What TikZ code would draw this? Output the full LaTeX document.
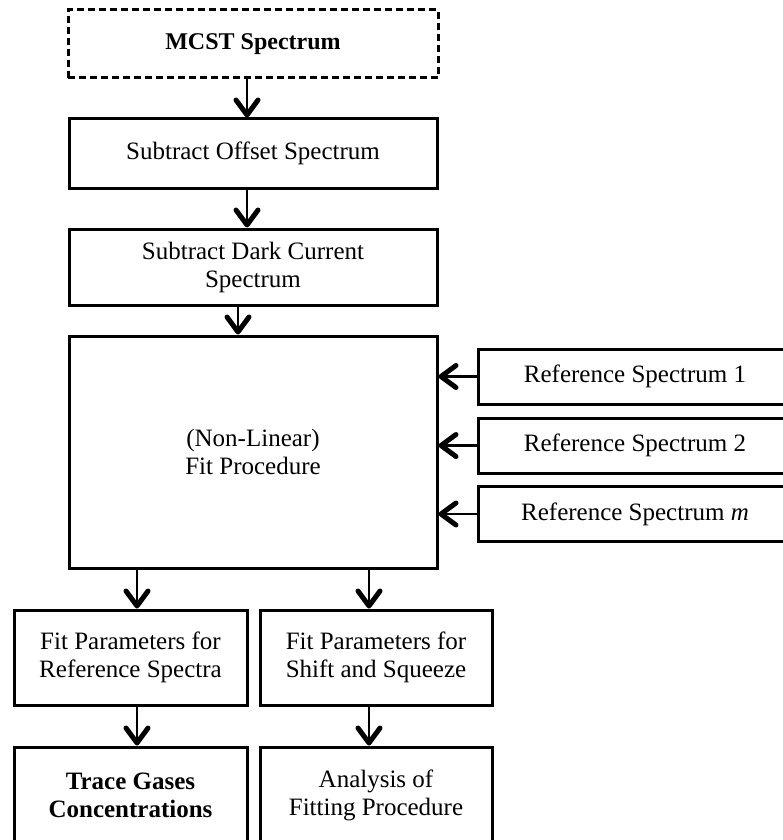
\documentclass[tikz,border=0pt]{standalone}
\usepackage{fontspec}
\setmainfont{Liberation Serif}
\usetikzlibrary{arrows.meta}
\begin{document}
\begin{tikzpicture}[x=1pt,y=-1pt,
  box/.style={draw, line width=3pt, inner sep=0pt, align=center, font=\fontsize{25}{28}\selectfont},
  dbox/.style={box, dashed, dash pattern=on 7pt off 4pt},
  arr/.style={line width=2.2pt, -{Straight Barb[length=15pt,width=22pt,line width=5pt 0, round]}}
]
\useasboundingbox (0,0) rectangle (783,840);
\clip (0,0) rectangle (783,840);
\fill[white] (0,0) rectangle (783,840);

\node[dbox, minimum width=370pt, minimum height=68pt, font=\fontsize{24}{28}\selectfont\bfseries] (mcst) at (253,44) {MCST Spectrum};
\node[box, minimum width=368pt, minimum height=69pt] (offset) at (253,153.5) {Subtract Offset Spectrum};
\node[box, minimum width=368pt, minimum height=76pt] (dark) at (253,267) {Subtract Dark Current\\Spectrum};
\node[box, minimum width=368pt, minimum height=232pt] (fit) at (253,452) {(Non-Linear)\\Fit Procedure};

\node[box, minimum width=314pt, minimum height=55pt] (ref1) at (635,376.5) {Reference Spectrum 1};
\node[box, minimum width=314pt, minimum height=55pt] (ref2) at (635,445.5) {Reference Spectrum 2};
\node[box, minimum width=314pt, minimum height=55pt] (ref3) at (635,514) {Reference Spectrum \textit{m}};

\node[box, minimum width=233pt, minimum height=95pt] (fpl) at (130.5,657.5) {Fit Parameters for\\Reference Spectra};
\node[box, minimum width=232pt, minimum height=95pt] (fpr) at (376,657.5) {Fit Parameters for\\Shift and Squeeze};

\node[box, minimum width=233pt, minimum height=96pt, font=\fontsize{25}{28}\selectfont\bfseries] (tgc) at (130.5,795) {Trace Gases\\Concentrations};
\node[box, minimum width=232pt, minimum height=96pt] (afp) at (376,795) {Analysis of\\Fitting Procedure};

\draw[arr] ([xshift=-6pt]mcst.south) -- ([xshift=-6pt]offset.north);
\draw[arr] ([xshift=-6pt]offset.south) -- ([xshift=-6pt]dark.north);
\draw[arr] ([xshift=-15pt]dark.south) -- ([xshift=-15pt]fit.north);

\draw[arr] (ref1.west) -- (ref1.west -| fit.east);
\draw[arr] (ref2.west) -- (ref2.west -| fit.east);
\draw[arr] (ref3.west) -- (ref3.west -| fit.east);

\draw[arr] ([xshift=6.5pt]fpl.north |- fit.south) -- ([xshift=6.5pt]fpl.north);
\draw[arr] ([xshift=-7pt]fpr.north |- fit.south) -- ([xshift=-7pt]fpr.north);
\draw[arr] ([xshift=6.5pt]fpl.south) -- ([xshift=6.5pt]tgc.north);
\draw[arr] ([xshift=-7pt]fpr.south) -- ([xshift=-7pt]afp.north);
\end{tikzpicture}
\end{document}
